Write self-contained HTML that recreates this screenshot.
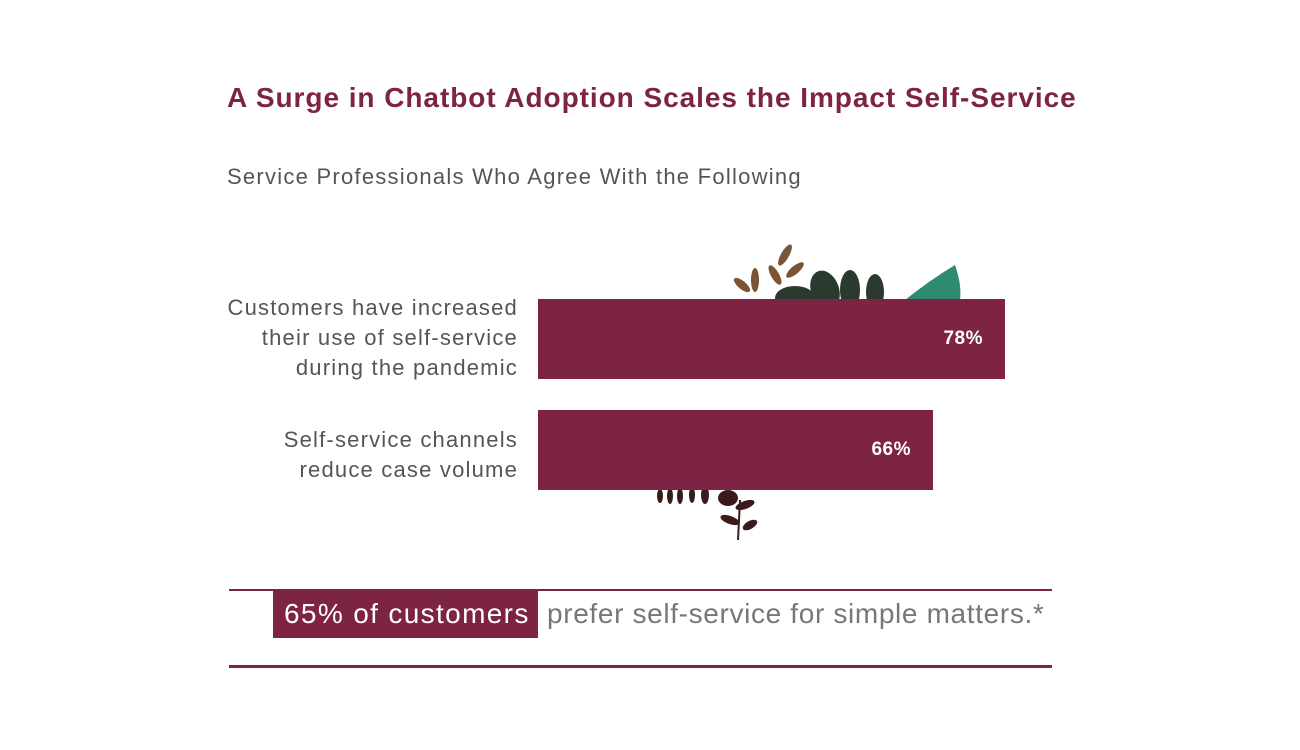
<!DOCTYPE html>
<html><head><meta charset="utf-8"><style>
body{margin:0;width:1300px;height:750px;background:#fff;position:relative;overflow:hidden;font-family:"Liberation Sans",sans-serif}
.a{position:absolute}
.t{left:227px;top:82px;font-size:28px;font-weight:bold;color:#7d2343;white-space:nowrap;letter-spacing:0.95px}
.s{left:227px;top:164px;font-size:22px;color:#555;white-space:nowrap;letter-spacing:1.25px}
.l{right:782px;text-align:right;font-size:22px;line-height:30px;color:#555;white-space:nowrap;letter-spacing:1.2px}
.bar{background:#7d2343;color:#fff;font-weight:bold;font-size:19px;text-align:right;box-sizing:border-box;padding-right:22px;line-height:80px;letter-spacing:0.5px}
</style></head><body>
<div class="a t">A Surge in Chatbot Adoption Scales the Impact Self-Service</div>
<div class="a s">Service Professionals Who Agree With the Following</div>
<svg class="a" style="left:630px;top:230px" width="350" height="320">
<g fill="#7a5535"><ellipse cx="155" cy="25" rx="4" ry="12" transform="rotate(30 155 25)"/><ellipse cx="145" cy="45" rx="4" ry="11" transform="rotate(-30 145 45)"/><ellipse cx="165" cy="40" rx="4" ry="11" transform="rotate(50 165 40)"/><ellipse cx="112" cy="55" rx="4" ry="10" transform="rotate(-50 112 55)"/><ellipse cx="125" cy="50" rx="4" ry="12"/></g>
<g fill="#2a3a2e"><ellipse cx="195" cy="60" rx="14" ry="20" transform="rotate(-20 195 60)"/><ellipse cx="220" cy="60" rx="10" ry="20"/><ellipse cx="245" cy="62" rx="9" ry="18"/><ellipse cx="165" cy="68" rx="20" ry="12"/></g>
<path d="M275 70 Q300 50 325 35 Q332 55 330 70 Z" fill="#2f8a72"/>
<g fill="#3a1a1a"><ellipse cx="30" cy="266" rx="3" ry="7"/><ellipse cx="40" cy="266" rx="3" ry="8"/><ellipse cx="50" cy="266" rx="3" ry="8"/><ellipse cx="62" cy="265" rx="3" ry="8"/><ellipse cx="75" cy="265" rx="4" ry="9"/><ellipse cx="98" cy="268" rx="10" ry="8"/><ellipse cx="115" cy="275" rx="10" ry="4" transform="rotate(-20 115 275)"/><ellipse cx="100" cy="290" rx="10" ry="4" transform="rotate(20 100 290)"/><ellipse cx="120" cy="295" rx="8" ry="4" transform="rotate(-30 120 295)"/></g>
<line x1="110" y1="270" x2="108" y2="310" stroke="#3a1a1a" stroke-width="2"/>
</svg>
<div class="a l" style="top:293px">Customers have increased<br>their use of self-service<br>during the pandemic</div>
<div class="a l" style="top:425px">Self-service channels<br>reduce case volume</div>
<div class="a bar" style="left:538px;top:299px;width:467px;height:80px">78%</div>
<div class="a bar" style="left:538px;top:410px;width:395px;height:80px">66%</div>
<div class="a" style="left:229px;top:589px;width:823px;height:2px;background:#7d2343"></div>
<div class="a" style="left:229px;top:665px;width:823px;height:3px;background:#7d2343"></div>
<div class="a" style="left:273px;top:590px;width:265px;height:48px;background:#7d2343"></div>
<div class="a" style="left:284px;top:598px;font-size:28px;color:#fff;white-space:nowrap;letter-spacing:1.35px">65% of customers</div>
<div class="a" style="left:547px;top:598px;font-size:28px;color:#777;white-space:nowrap;letter-spacing:0.65px">prefer self-service for simple matters.*</div>
</body></html>
